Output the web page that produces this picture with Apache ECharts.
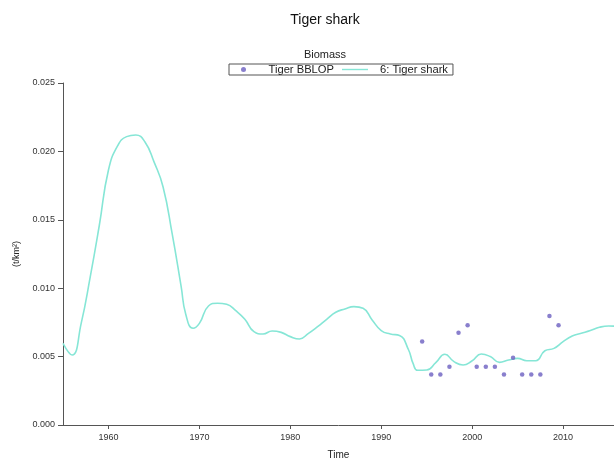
<!DOCTYPE html>
<html><head><meta charset="utf-8">
<script src="https://cdn.jsdelivr.net/npm/echarts@6/dist/echarts.min.js"></script>
<style>html,body{margin:0;padding:0;background:#fff}#c{width:614px;height:459px}</style>
</head><body><div id="c"></div>
<script>
const curveYears = [1955,1956,1957,1958,1959,1960,1961,1962,1963,1964,1965,1966,1967,1968,1968.5,1969.3,1970,1971,1972,1973,1974,1975,1976,1977,1978,1979,1980,1981,1982,1983,1984,1985,1986,1987,1988,1989,1990,1991,1992,1993,1993.5,1994,1995,1996,1997,1998,1999,2000,2001,2002,2003,2004,2005,2006,2007,2008,2009,2010,2011,2012,2013,2014,2015,2016];
const curveValues = [0.00597,0.00512,0.00743,0.01084,0.01462,0.01864,0.0204,0.02108,0.0212,0.02071,0.01925,0.01742,0.0140,0.0101,0.0081,0.00707,0.00743,0.0087,0.0089,0.00882,0.00836,0.00773,0.00682,0.00665,0.00687,0.00677,0.00646,0.00629,0.0067,0.00719,0.00773,0.00824,0.00848,0.00865,0.00853,0.00768,0.0069,0.00665,0.00655,0.0055,0.0045,0.00400,0.00402,0.00456,0.00517,0.00463,0.00439,0.0047,0.00519,0.005,0.00458,0.00475,0.00487,0.0047,0.0047,0.00543,0.0056,0.00609,0.0065,0.0067,0.0069,0.00714,0.00724,0.0072];
const obsYears = [1994.5,1995.5,1996.5,1997.5,1998.5,1999.5,2000.5,2001.5,2002.5,2003.5,2004.5,2005.5,2006.5,2007.5,2008.5,2009.5];
const obsValues = [0.0061,0.0037,0.0037,0.00426,0.00675,0.0073,0.00426,0.00426,0.00426,0.0037,0.00492,0.0037,0.0037,0.0037,0.00797,0.0073];
const xTicks = [1960,1970,1980,1990,2000,2010];
const yTicks = [0.000,0.005,0.010,0.015,0.020,0.025];

const chart = echarts.init(document.getElementById('c'));
const font = 'Liberation Sans, Arial, sans-serif';
chart.setOption({
  animation:false,
  backgroundColor:'#fff',
  title:[
    {text:'Tiger shark', left:320, top:8, textAlign:'center', textStyle:{fontFamily:font,fontSize:14,fontWeight:'normal',color:'#111'}},
    {text:'Biomass', left:320, top:44, textAlign:'center', textStyle:{fontFamily:font,fontSize:11,fontWeight:'normal',color:'#222'}}
  ],
  legend:{
    left:229, top:64, padding:[0,5,0,12], itemGap:8,
    borderColor:'#555', borderWidth:1, borderRadius:0,
    itemWidth:26, itemHeight:5,
    textStyle:{fontFamily:font,fontSize:11.2,color:'#222',padding:[0,0,0,7]},
    data:[
      {name:'Tiger BBLOP', icon:'circle', itemStyle:{color:'#7468c4'}},
      {name:'6: Tiger shark', icon:'path://M0,0 L26,0 L26,1.4 L0,1.4 Z', itemStyle:{color:'#86e6d6'}}
    ]
  },
  grid:{left:63, right:0, top:83, bottom:34, containLabel:false, outerBoundsMode:'none'},
  xAxis:{
    type:'value', min:1955, max:2015.6,
    name:'Time', nameLocation:'middle', nameGap:25,
    nameTextStyle:{fontFamily:font,fontSize:10,color:'#222'},
    axisLine:{show:true,lineStyle:{color:'#555',width:1}},
    axisTick:{show:true,length:4,lineStyle:{color:'#555'},customValues:xTicks},
    axisLabel:{fontFamily:font,fontSize:9,color:'#333',margin:8,
      customValues:xTicks, formatter:v=>String(Math.round(v))},
    splitLine:{show:false}
  },
  yAxis:{
    type:'value', min:0, max:0.025, interval:0.005,
    name:'(t/km²)', nameLocation:'middle', nameGap:42, nameRotate:90,
    nameTextStyle:{fontFamily:font,fontSize:9,color:'#222'},
    axisLine:{show:true,lineStyle:{color:'#555',width:1}},
    axisTick:{show:true,length:5,lineStyle:{color:'#555'}},
    axisLabel:{fontFamily:font,fontSize:9,color:'#333',margin:8,
      formatter:v=>{const t=yTicks.find(x=>Math.abs(x-v)<1e-9);return (t!==undefined?t:v).toFixed(3);}},
    splitLine:{show:false}
  },
  series:[
    {name:'Tiger BBLOP', type:'scatter', symbol:'circle', symbolSize:4.5,
      itemStyle:{color:'#7468c4', opacity:0.85},
      data:obsYears.map((y,i)=>[y,obsValues[i]]), z:3},
    {name:'6: Tiger shark', type:'line', smooth:0.5, symbol:'none', showSymbol:false,
      lineStyle:{color:'#86e6d6',width:1.6}, itemStyle:{color:'#86e6d6'},
      data:curveYears.map((y,i)=>[y,curveValues[i]]), z:2, clip:true}
  ]
});
</script></body></html>
